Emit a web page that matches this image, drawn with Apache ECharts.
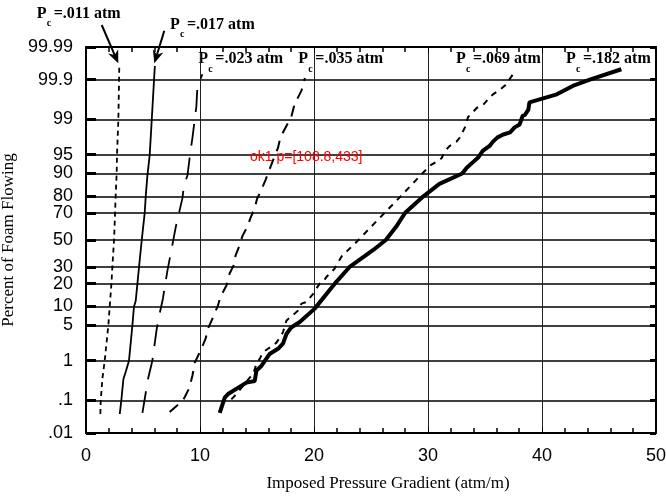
<!DOCTYPE html>
<html><head><meta charset="utf-8">
<script src="https://cdn.jsdelivr.net/npm/echarts@6/dist/echarts.min.js"></script>
<style>html,body{margin:0;padding:0;background:#fff}#c{width:666px;height:496px}</style>
</head><body><div id="c"></div><script>
// ---------- DATA ----------
const xTicks = [0, 10, 20, 30, 40, 50];
const xMinorTicks = [2, 4, 6, 8, 12, 14, 16, 18, 22, 24, 26, 28, 32, 34, 36, 38, 42, 44, 46, 48];
const probTicks = [0.01, 0.1, 1, 5, 10, 20, 30, 50, 70, 80, 90, 95, 99, 99.9, 99.99];
const probLabels = ['.01', '.1', '1', '5', '10', '20', '30', '50', '70', '80', '90', '95', '99', '99.9', '99.99'];
const seriesNames = ['Pc=.011 atm', 'Pc=.017 atm', 'Pc=.023 atm', 'Pc=.035 atm', 'Pc=.069 atm', 'Pc=.182 atm'];
const annotationValues = ['=.011 atm', '=.017 atm', '=.023 atm', '=.035 atm', '=.069 atm', '=.182 atm'];

const pc011 = [[1.26,0.04],[1.29,0.1],[1.45,0.4],[1.64,1],[1.96,5],[2.08,10],[2.23,20],[2.31,30],[2.46,50],[2.55,70],[2.6,80],[2.69,90],[2.72,95],[2.84,99],[2.9,99.9],[2.92,99.96]];
const pc017 = [[2.96,0.04],[3.1,0.1],[3.28,0.37],[3.48,0.55],[3.77,1],[4.07,5],[4.21,10],[4.36,12],[4.51,20],[4.65,30],[4.89,50],[5.15,70],[5.24,80],[5.38,89],[5.59,95],[5.77,99],[5.97,99.9],[6.04,99.96]];
const pc023 = [[4.95,0.043],[5.44,0.37],[5.82,1],[6.2,4.3],[6.46,7.8],[6.75,13],[6.9,18],[7.14,27.6],[7.63,48.7],[7.87,59.7],[8.46,79],[8.6,85.7],[8.9,89.3],[9.1,94.5],[9.33,97.5],[9.68,99.49],[9.77,99.84],[10.21,99.93]];
const pc035 = [[7.34,0.046],[8.51,0.1],[9.04,0.21],[9.33,0.44],[9.54,0.9],[10.12,1.8],[10.5,2.9],[10.7,4.4],[11.14,6.8],[11.58,10.4],[11.79,13.6],[12.32,19],[12.6,25.9],[12.96,31.4],[13.13,38.6],[13.48,46],[13.72,53],[14.16,60.2],[14.42,66.3],[14.8,73],[15.0,78.5],[15.39,83.4],[15.76,87.8],[16.1,91.3],[16.55,94.7],[16.84,96.2],[17.05,97.6],[17.58,98.6],[18.0,99.1],[18.3,99.56],[18.9,99.8],[19.2,99.91]];
const pc069 = [[12.75,0.107],[13.2,0.15],[14.36,0.4],[14.65,0.48],[14.95,0.84],[15.24,1.1],[15.5,1.5],[15.8,1.7],[16.4,2.1],[16.7,2.4],[17.14,3.3],[17.28,3.8],[17.58,6],[17.87,6.8],[18.3,7.8],[18.6,8.7],[18.9,11],[19.33,11.6],[20.06,15.8],[20.2,17.4],[20.5,20],[20.8,21],[21.1,23.9],[21.4,26],[21.8,29],[21.96,31.4],[22.5,38.6],[22.84,41],[23.9,50],[25.0,60],[26.2,70],[27.6,80],[29.5,90],[30.3,92.7],[30.9,93.6],[31.2,94.3],[31.5,95.7],[31.9,96.5],[32.5,97.1],[32.8,97.6],[33.07,98.2],[33.3,98.6],[33.5,99.1],[33.7,99.2],[34.3,99.46],[34.8,99.53],[35.3,99.67],[35.7,99.75],[36.3,99.81],[36.8,99.86],[37.46,99.93]];
const pc182 = [[11.73,0.043],[12.17,0.12],[12.46,0.15],[14.07,0.3],[14.8,0.33],[14.95,0.59],[15.4,0.77],[15.7,1.0],[16.1,1.4],[16.84,1.8],[17.28,2.3],[17.58,3.5],[18.0,4.6],[18.75,5.7],[20.06,9.3],[21.96,21],[23.1,30],[25.2,42.4],[26.3,50],[27.2,60],[28.0,70],[29.6,80],[31.0,86],[33.0,90],[33.4,91.8],[33.9,93.2],[34.4,94.4],[34.8,95.7],[35.4,96.5],[35.7,97.1],[36.1,97.6],[36.6,97.9],[37.2,98.1],[37.6,98.5],[38.04,98.7],[38.3,99.16],[38.5,99.2],[38.8,99.4],[38.9,99.6],[41.3,99.75],[42.7,99.85],[44.2,99.9],[46.96,99.95]];

function probit(p){
  const a=[-3.969683028665376e+01,2.209460984245205e+02,-2.759285104469687e+02,1.383577518672690e+02,-3.066479806614716e+01,2.506628277459239e+00];
  const b=[-5.447609879822406e+01,1.615858368580409e+02,-1.556989798598866e+02,6.680131188771972e+01,-1.328068155288572e+01];
  const c=[-7.784894002430293e-03,-3.223964580411365e-01,-2.400758277161838e+00,-2.549732539343734e+00,4.374664141464968e+00,2.938163982698783e+00];
  const d=[7.784695709041462e-03,3.224671290700398e-01,2.445134137142996e+00,3.754408661907416e+00];
  const pl=0.02425, ph=1-pl; let q,r;
  if(p<pl){q=Math.sqrt(-2*Math.log(p));return (((((c[0]*q+c[1])*q+c[2])*q+c[3])*q+c[4])*q+c[5])/((((d[0]*q+d[1])*q+d[2])*q+d[3])*q+1);}
  if(p<=ph){q=p-0.5;r=q*q;return (((((a[0]*r+a[1])*r+a[2])*r+a[3])*r+a[4])*r+a[5])*q/(((((b[0]*r+b[1])*r+b[2])*r+b[3])*r+b[4])*r+1);}
  q=Math.sqrt(-2*Math.log(1-p));return -(((((c[0]*q+c[1])*q+c[2])*q+c[3])*q+c[4])*q+c[5])/((((d[0]*q+d[1])*q+d[2])*q+d[3])*q+1);
}
const zTicks = probTicks.map(p => probit(p/100));
const zMin = zTicks[0], zMax = zTicks[zTicks.length-1];
const xMin = xTicks[0], xMax = xTicks[xTicks.length-1];
function toZ(arr){ return arr.map(d => [d[0], probit(d[1]/100)]); }
function zLabel(v){ for(let i=0;i<zTicks.length;i++){ if(Math.abs(zTicks[i]-v)<1e-6) return probLabels[i]; } return ''; }

const G = {left:86, right:10, top:47, bottom:63};
const allData = [pc011, pc017, pc023, pc035, pc069, pc182];
const styles = [
  {width:1.8, type:[5,4]}, {width:1.8, type:'solid'}, {width:1.8, type:[22,12]},
  {width:2, type:[11,8]}, {width:2, type:[6,6]}, {width:4, type:'solid'}
];
const series = allData.map((d,i)=>({
  name: seriesNames[i], type:'line', data: toZ(d), showSymbol:false, symbol:'none',
  silent:true, animation:false, z:3,
  lineStyle:{color:'#000', width:styles[i].width, type:styles[i].type}
}));

const labelPos = [[36.7,14,9],[170,25,9],[198.3,59,10],[298.3,59,10],[456,59,10],[566,59,10]];
const graphic = [];
labelPos.forEach((p,i)=>{
  graphic.push({type:'text', x:p[0], y:p[1], style:{text:'P', font:'bold 16px "Liberation Serif"', fill:'#000', textVerticalAlign:'middle', textAlign:'left'}});
  graphic.push({type:'text', x:p[0]+10, y:p[1]+p[2], style:{text:'c', font:'bold 10px "Liberation Serif"', fill:'#000', textVerticalAlign:'middle', textAlign:'left'}});
  graphic.push({type:'text', x:p[0]+17, y:p[1], style:{text:annotationValues[i], font:'bold 16px "Liberation Serif"', fill:'#000', textVerticalAlign:'middle', textAlign:'left'}});
});
function arrow(x1,y1,x2,y2){
  const dx=x2-x1, dy=y2-y1, L=Math.hypot(dx,dy), ux=dx/L, uy=dy/L, nx=-uy, ny=ux;
  const hl=13, hw=5.5, notch=9;
  graphic.push({type:'line', shape:{x1:x1,y1:y1,x2:x2-ux*notch,y2:y2-uy*notch}, style:{stroke:'#000', lineWidth:2}});
  graphic.push({type:'polygon', shape:{points:[[x2,y2],[x2-ux*hl+nx*hw,y2-uy*hl+ny*hw],[x2-ux*notch,y2-uy*notch],[x2-ux*hl-nx*hw,y2-uy*hl-ny*hw]]}, style:{fill:'#000'}});
}
arrow(101.7,25,118.3,63.3);
arrow(164.3,30.7,154.3,63.3);

const axisFont = {fontFamily:'"Liberation Sans", Arial, sans-serif', fontSize:18, color:'#000'};
let dbg = 'start';
const chart = echarts.init(document.getElementById('c'), null, {renderer:'canvas'});
try {
chart.setOption({
  backgroundColor:'#fff',
  animation:false,
  grid:{left:G.left, right:G.right, top:G.top, bottom:G.bottom, outerBoundsMode:'none'},
  xAxis:[{
    type:'value', min:xMin, max:xMax, interval:10, position:'bottom',
    name:'Imposed Pressure Gradient (atm/m)', nameLocation:'middle', nameGap:42,
    nameTextStyle:{fontFamily:'"Liberation Serif", serif', fontSize:17, color:'#000', padding:[0,0,0,34]},
    axisLine:{show:true, onZero:false, lineStyle:{color:'#000', width:2}},
    axisTick:{show:true, inside:true, length:6},
    minorTick:{show:true, splitNumber:5, length:5, lineStyle:{color:'#000', width:1.5}},
    axisLabel:{...axisFont, margin:14},
    splitLine:{show:true, lineStyle:{color:'#222', width:1}}
  },{
    type:'value', min:xMin, max:xMax, interval:10, position:'top',
    axisLine:{show:true, onZero:false, lineStyle:{color:'#000', width:2}},
    axisTick:{show:true, inside:true, length:6},
    minorTick:{show:true, splitNumber:5, length:5, lineStyle:{color:'#000', width:1.5}},
    axisLabel:{show:false}, splitLine:{show:false}
  }],
  yAxis:[{
    type:'value', min:zMin, max:zMax, position:'left',
    name:'Percent of Foam Flowing', nameLocation:'middle', nameGap:58,
    nameTextStyle:{fontFamily:'"Liberation Serif", serif', fontSize:17, color:'#000'},
    axisLine:{show:true, onZero:false, lineStyle:{color:'#000', width:2}},
    axisTick:{show:true, inside:true, length:10, customValues:zTicks, lineStyle:{width:3}},
    axisLabel:{...axisFont, margin:13, customValues:zTicks, formatter: v => zLabel(v)},
    splitLine:{show:true, lineStyle:{color:'#000', width:1.5}}
  },{
    type:'value', min:zMin, max:zMax, position:'right',
    axisLine:{show:true, onZero:false, lineStyle:{color:'#000', width:2}},
    axisTick:{show:true, inside:true, length:6, customValues:zTicks, lineStyle:{width:3}},
    axisLabel:{show:false}, splitLine:{show:false}
  }],
  series: series,
  graphic: graphic
});
dbg = 'ok1';
const p = chart.convertToPixel({gridIndex:0}, [2, zMin]);
dbg += ' p=' + JSON.stringify(p);
} catch(e) { dbg += ' ERR:' + e.message; }
const g2 = graphic.concat([{type:'text', x:250, y:150, z:200, style:{text:dbg, font:'14px sans-serif', fill:'red'}}]);
try { chart.setOption({graphic: g2}); } catch(e) { document.title = e.message; }
</script></body></html>
